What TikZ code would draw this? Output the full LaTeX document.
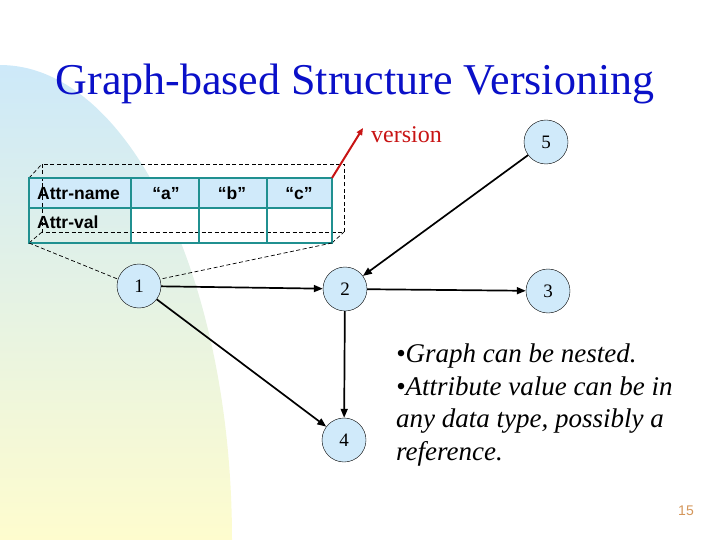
\documentclass[tikz,border=0pt]{standalone}
\usepackage{fontspec}
\setmainfont{Liberation Serif}
\setsansfont{Liberation Sans}
\usetikzlibrary{arrows.meta}
\definecolor{skyblue}{RGB}{205,233,249}
\definecolor{mintgreen}{RGB}{228,243,222}
\definecolor{paleyellow}{RGB}{254,252,206}
\definecolor{cellblue}{RGB}{208,234,250}
\definecolor{tealline}{RGB}{32,144,144}
\definecolor{titleblue}{RGB}{10,16,200}
\definecolor{versred}{RGB}{200,20,20}
\definecolor{pagetan}{RGB}{212,150,90}

\begin{document}
\begin{tikzpicture}[x=1pt,y=-1pt,
    vnode/.style={circle,draw,thin,fill=cellblue,minimum size=44pt,inner sep=0pt,
                  font=\fontsize{19}{19}\selectfont},
    edge/.style={-{Triangle[length=9pt,width=7pt]},line width=1.7pt},
    guide/.style={dashed,dash pattern=on 4pt off 2.5pt,line width=0.7pt},
    cell/.style={font=\sffamily\bfseries\fontsize{17.5}{17.5}\selectfont,inner sep=0pt,anchor=base}]
    \useasboundingbox (0,0) rectangle (720,540);
    %background
    \shade[top color=skyblue,middle color=mintgreen,bottom color=paleyellow]
        (0,540) -- (0,65) arc[start angle=-90,end angle=0,x radius=232,y radius=475] -- cycle;
    \node[anchor=base,text=titleblue,font=\fontsize{44}{44}\selectfont] (title) at (355,95)
        {Graph-based Structure Versioning};

    %table
    \fill[cellblue] (29,178) rectangle (332,208);
    \fill[white] (131,208) rectangle (332,243);
    \draw[guide] (42,164) rectangle (344,232);
    \draw[guide] (29,178) -- (42,164);
    \draw[guide] (29,243) -- (42,232);
    \draw[guide] (332,243) -- (344,232);
    \draw[tealline,line width=2.6pt] (29,178) rectangle (332,243);
    \draw[tealline,line width=2.6pt] (29,208) -- (332,208);
    \foreach \x in {131,199,267}
      \draw[tealline,line width=2.6pt] (\x,178) -- (\x,243);
    \node[cell,anchor=base west] (aname) at (37,200) {Attr-name};
    \node[cell,anchor=base west] (aval) at (37,229) {Attr-val};
    \node[cell] (ca) at (166,200) {“a”};
    \node[cell] (cb) at (232,200) {“b”};
    \node[cell] (cc) at (299,200) {“c”};
    \coordinate (tabtop) at (332,178);
    \coordinate (tabbl) at (29,243);
    \coordinate (tabbr) at (332,243);

    %version
    \node[anchor=base west,text=versred,font=\fontsize{24}{24}\selectfont,inner sep=0pt]
        (version) at (371,143) {version};
    \coordinate (vtip) at (363,128);
    \draw[versred,line width=2pt,-{Triangle[length=7pt,width=6pt]}] (tabtop) -- (vtip);

    %graph
    \node[vnode] (n1) at (139,286) {1};
    \node[vnode] (n2) at (345,289) {2};
    \node[vnode] (n3) at (548,291) {3};
    \node[vnode] (n4) at (344,440) {4};
    \node[vnode] (n5) at (546,142) {5};
    \draw[guide] (tabbl) -- (n1.162);
    \draw[guide] (tabbr) -- (n1.18);
    \draw[edge] (n1) -- (n2);
    \draw[edge] (n1) -- (n4);
    \draw[edge] (n2) -- (n4);
    \draw[edge] (n2) -- (n3);
    \draw[edge] (n5) -- (n2);

    %notes
    \node[anchor=north west,align=left,inner sep=0pt,
          font=\itshape\fontsize{27}{32.5}\selectfont] (notes) at (396,344)
        {•Graph can be nested.\\
         •Attribute value can be in\\
         any data type, possibly a\\
         reference.};
    \node[anchor=base,text=pagetan,font=\sffamily\fontsize{14}{14}\selectfont,inner sep=0pt]
        (page) at (686,515) {15};
  \end{tikzpicture}
\end{document}
